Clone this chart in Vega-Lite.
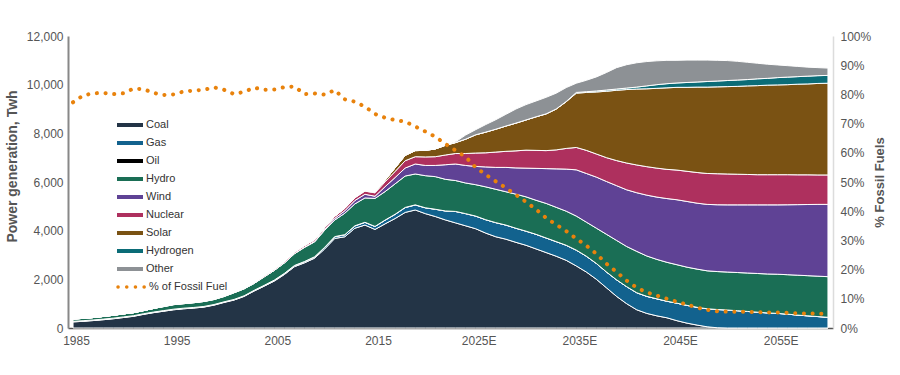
{
  "$schema": "https://vega.github.io/schema/vega-lite/v6.json",
  "width": 765,
  "height": 292,
  "autosize": "none",
  "padding": {"left": 68, "top": 36, "right": 67, "bottom": 47},
  "background": "white",
  "config": {
    "view": {"stroke": null},
    "font": "Liberation Sans",
    "axis": {"labelFont": "Liberation Sans", "titleFont": "Liberation Sans", "grid": false, "ticks": false}
  },
  "data": {"values": [
    {"year":1985,"Coal":250,"Gas":15,"Oil":10,"Hydro":95,"Wind":0,"Nuclear":0,"Solar":0,"Hydrogen":0,"Other":0,"Fossil":77.3},
    {"year":1986,"Coal":275,"Gas":15,"Oil":10,"Hydro":95,"Wind":0,"Nuclear":0,"Solar":0,"Hydrogen":0,"Other":0,"Fossil":79.6},
    {"year":1987,"Coal":305,"Gas":15,"Oil":10,"Hydro":100,"Wind":0,"Nuclear":0,"Solar":0,"Hydrogen":0,"Other":0,"Fossil":80.4},
    {"year":1988,"Coal":340,"Gas":15,"Oil":10,"Hydro":110,"Wind":0,"Nuclear":0,"Solar":0,"Hydrogen":0,"Other":0,"Fossil":80.5},
    {"year":1989,"Coal":380,"Gas":15,"Oil":10,"Hydro":118,"Wind":0,"Nuclear":0,"Solar":0,"Hydrogen":0,"Other":0,"Fossil":80.1},
    {"year":1990,"Coal":430,"Gas":15,"Oil":10,"Hydro":125,"Wind":0,"Nuclear":0,"Solar":0,"Hydrogen":0,"Other":0,"Fossil":80.4},
    {"year":1991,"Coal":480,"Gas":15,"Oil":10,"Hydro":125,"Wind":0,"Nuclear":0,"Solar":0,"Hydrogen":0,"Other":0,"Fossil":82.0},
    {"year":1992,"Coal":560,"Gas":15,"Oil":10,"Hydro":130,"Wind":0,"Nuclear":0,"Solar":0,"Hydrogen":0,"Other":0,"Fossil":81.8},
    {"year":1993,"Coal":630,"Gas":15,"Oil":10,"Hydro":150,"Wind":0,"Nuclear":0,"Solar":0,"Hydrogen":0,"Other":0,"Fossil":80.5},
    {"year":1994,"Coal":690,"Gas":15,"Oil":10,"Hydro":165,"Wind":0,"Nuclear":15,"Solar":0,"Hydrogen":0,"Other":0,"Fossil":79.8},
    {"year":1995,"Coal":750,"Gas":15,"Oil":10,"Hydro":185,"Wind":0,"Nuclear":13,"Solar":0,"Hydrogen":0,"Other":0,"Fossil":80.0},
    {"year":1996,"Coal":790,"Gas":15,"Oil":10,"Hydro":185,"Wind":0,"Nuclear":14,"Solar":0,"Hydrogen":0,"Other":0,"Fossil":81.0},
    {"year":1997,"Coal":820,"Gas":15,"Oil":10,"Hydro":195,"Wind":0,"Nuclear":14,"Solar":0,"Hydrogen":0,"Other":0,"Fossil":81.3},
    {"year":1998,"Coal":860,"Gas":15,"Oil":10,"Hydro":205,"Wind":0,"Nuclear":14,"Solar":0,"Hydrogen":0,"Other":0,"Fossil":81.6},
    {"year":1999,"Coal":940,"Gas":15,"Oil":10,"Hydro":205,"Wind":0,"Nuclear":15,"Solar":0,"Hydrogen":0,"Other":0,"Fossil":82.4},
    {"year":2000,"Coal":1050,"Gas":15,"Oil":10,"Hydro":220,"Wind":0,"Nuclear":17,"Solar":0,"Hydrogen":0,"Other":0,"Fossil":81.6},
    {"year":2001,"Coal":1150,"Gas":15,"Oil":10,"Hydro":275,"Wind":0,"Nuclear":17,"Solar":0,"Hydrogen":0,"Other":0,"Fossil":80.1},
    {"year":2002,"Coal":1300,"Gas":15,"Oil":10,"Hydro":285,"Wind":0,"Nuclear":25,"Solar":0,"Hydrogen":0,"Other":0,"Fossil":80.9},
    {"year":2003,"Coal":1520,"Gas":20,"Oil":10,"Hydro":285,"Wind":0,"Nuclear":43,"Solar":0,"Hydrogen":0,"Other":0,"Fossil":82.3},
    {"year":2004,"Coal":1720,"Gas":25,"Oil":10,"Hydro":350,"Wind":0,"Nuclear":50,"Solar":0,"Hydrogen":0,"Other":0,"Fossil":81.6},
    {"year":2005,"Coal":1930,"Gas":30,"Oil":10,"Hydro":400,"Wind":0,"Nuclear":53,"Solar":0,"Hydrogen":0,"Other":0,"Fossil":81.7},
    {"year":2006,"Coal":2200,"Gas":35,"Oil":10,"Hydro":430,"Wind":5,"Nuclear":55,"Solar":0,"Hydrogen":0,"Other":0,"Fossil":82.5},
    {"year":2007,"Coal":2520,"Gas":40,"Oil":10,"Hydro":480,"Wind":10,"Nuclear":62,"Solar":0,"Hydrogen":0,"Other":0,"Fossil":82.7},
    {"year":2008,"Coal":2680,"Gas":45,"Oil":8,"Hydro":580,"Wind":13,"Nuclear":68,"Solar":0,"Hydrogen":0,"Other":0,"Fossil":80.1},
    {"year":2009,"Coal":2870,"Gas":50,"Oil":8,"Hydro":610,"Wind":27,"Nuclear":70,"Solar":0,"Hydrogen":0,"Other":0,"Fossil":80.3},
    {"year":2010,"Coal":3250,"Gas":60,"Oil":8,"Hydro":700,"Wind":45,"Nuclear":74,"Solar":0,"Hydrogen":0,"Other":0,"Fossil":79.9},
    {"year":2011,"Coal":3680,"Gas":70,"Oil":6,"Hydro":680,"Wind":70,"Nuclear":86,"Solar":5,"Hydrogen":0,"Other":0,"Fossil":81.5},
    {"year":2012,"Coal":3750,"Gas":80,"Oil":6,"Hydro":880,"Wind":100,"Nuclear":97,"Solar":10,"Hydrogen":0,"Other":0,"Fossil":78.3},
    {"year":2013,"Coal":4100,"Gas":95,"Oil":5,"Hydro":900,"Wind":140,"Nuclear":110,"Solar":15,"Hydrogen":0,"Other":0,"Fossil":77.5},
    {"year":2014,"Coal":4230,"Gas":110,"Oil":5,"Hydro":1000,"Wind":150,"Nuclear":130,"Solar":25,"Hydrogen":0,"Other":0,"Fossil":75.8},
    {"year":2015,"Coal":4050,"Gas":120,"Oil":5,"Hydro":1150,"Wind":90,"Nuclear":140,"Solar":40,"Hydrogen":0,"Other":0,"Fossil":73.3},
    {"year":2016,"Coal":4280,"Gas":150,"Oil":5,"Hydro":1170,"Wind":200,"Nuclear":200,"Solar":70,"Hydrogen":0,"Other":0,"Fossil":72.0},
    {"year":2017,"Coal":4500,"Gas":170,"Oil":5,"Hydro":1250,"Wind":260,"Nuclear":250,"Solar":150,"Hydrogen":0,"Other":0,"Fossil":71.2},
    {"year":2018,"Coal":4750,"Gas":200,"Oil":5,"Hydro":1290,"Wind":330,"Nuclear":300,"Solar":220,"Hydrogen":0,"Other":0,"Fossil":70.7},
    {"year":2019,"Coal":4850,"Gas":205,"Oil":5,"Hydro":1270,"Wind":410,"Nuclear":300,"Solar":250,"Hydrogen":0,"Other":0,"Fossil":69.0},
    {"year":2020,"Coal":4700,"Gas":240,"Oil":0,"Hydro":1320,"Wind":420,"Nuclear":350,"Solar":270,"Hydrogen":0,"Other":0,"Fossil":67.3},
    {"year":2021,"Coal":4580,"Gas":300,"Oil":0,"Hydro":1340,"Wind":460,"Nuclear":360,"Solar":320,"Hydrogen":0,"Other":0,"Fossil":65.5},
    {"year":2022,"Coal":4440,"Gas":370,"Oil":0,"Hydro":1300,"Wind":600,"Nuclear":400,"Solar":400,"Hydrogen":0,"Other":0,"Fossil":63.0},
    {"year":2023,"Coal":4320,"Gas":470,"Oil":0,"Hydro":1270,"Wind":680,"Nuclear":430,"Solar":450,"Hydrogen":0,"Other":30,"Fossil":60.8},
    {"year":2024,"Coal":4200,"Gas":500,"Oil":0,"Hydro":1260,"Wind":720,"Nuclear":490,"Solar":590,"Hydrogen":0,"Other":170,"Fossil":58.6},
    {"year":2025,"Coal":4080,"Gas":520,"Oil":0,"Hydro":1290,"Wind":750,"Nuclear":550,"Solar":750,"Hydrogen":0,"Other":210,"Fossil":55.0},
    {"year":2026,"Coal":3900,"Gas":550,"Oil":0,"Hydro":1350,"Wind":820,"Nuclear":580,"Solar":850,"Hydrogen":0,"Other":310,"Fossil":52.5},
    {"year":2027,"Coal":3750,"Gas":580,"Oil":0,"Hydro":1370,"Wind":900,"Nuclear":630,"Solar":940,"Hydrogen":0,"Other":390,"Fossil":50.2},
    {"year":2028,"Coal":3650,"Gas":580,"Oil":0,"Hydro":1370,"Wind":1000,"Nuclear":660,"Solar":1040,"Hydrogen":0,"Other":480,"Fossil":48.0},
    {"year":2029,"Coal":3520,"Gas":580,"Oil":0,"Hydro":1400,"Wind":1080,"Nuclear":700,"Solar":1140,"Hydrogen":0,"Other":580,"Fossil":45.6},
    {"year":2030,"Coal":3400,"Gas":580,"Oil":0,"Hydro":1410,"Wind":1180,"Nuclear":740,"Solar":1240,"Hydrogen":0,"Other":630,"Fossil":43.2},
    {"year":2031,"Coal":3250,"Gas":600,"Oil":0,"Hydro":1400,"Wind":1310,"Nuclear":740,"Solar":1380,"Hydrogen":0,"Other":650,"Fossil":40.6},
    {"year":2032,"Coal":3100,"Gas":600,"Oil":0,"Hydro":1420,"Wind":1430,"Nuclear":740,"Solar":1510,"Hydrogen":0,"Other":680,"Fossil":37.7},
    {"year":2033,"Coal":2950,"Gas":600,"Oil":0,"Hydro":1410,"Wind":1580,"Nuclear":780,"Solar":1680,"Hydrogen":0,"Other":650,"Fossil":35.4},
    {"year":2034,"Coal":2780,"Gas":620,"Oil":0,"Hydro":1400,"Wind":1730,"Nuclear":850,"Solar":1920,"Hydrogen":10,"Other":570,"Fossil":33.2},
    {"year":2035,"Coal":2550,"Gas":650,"Oil":0,"Hydro":1400,"Wind":1900,"Nuclear":920,"Solar":2230,"Hydrogen":30,"Other":380,"Fossil":30.6},
    {"year":2036,"Coal":2300,"Gas":650,"Oil":0,"Hydro":1400,"Wind":2000,"Nuclear":950,"Solar":2380,"Hydrogen":30,"Other":470,"Fossil":28.2},
    {"year":2037,"Coal":2000,"Gas":650,"Oil":0,"Hydro":1450,"Wind":2100,"Nuclear":950,"Solar":2550,"Hydrogen":40,"Other":580,"Fossil":25.4},
    {"year":2038,"Coal":1650,"Gas":650,"Oil":0,"Hydro":1550,"Wind":2170,"Nuclear":980,"Solar":2730,"Hydrogen":50,"Other":720,"Fossil":22.0},
    {"year":2039,"Coal":1300,"Gas":680,"Oil":0,"Hydro":1620,"Wind":2250,"Nuclear":1030,"Solar":2890,"Hydrogen":50,"Other":880,"Fossil":19.2},
    {"year":2040,"Coal":1000,"Gas":700,"Oil":0,"Hydro":1650,"Wind":2330,"Nuclear":1100,"Solar":3020,"Hydrogen":60,"Other":960,"Fossil":16.2},
    {"year":2041,"Coal":750,"Gas":700,"Oil":0,"Hydro":1700,"Wind":2410,"Nuclear":1140,"Solar":3120,"Hydrogen":80,"Other":1000,"Fossil":13.8},
    {"year":2042,"Coal":600,"Gas":700,"Oil":0,"Hydro":1660,"Wind":2500,"Nuclear":1170,"Solar":3200,"Hydrogen":120,"Other":1000,"Fossil":12.2},
    {"year":2043,"Coal":500,"Gas":700,"Oil":0,"Hydro":1620,"Wind":2560,"Nuclear":1190,"Solar":3280,"Hydrogen":150,"Other":980,"Fossil":11.1},
    {"year":2044,"Coal":420,"Gas":680,"Oil":0,"Hydro":1600,"Wind":2620,"Nuclear":1200,"Solar":3350,"Hydrogen":170,"Other":960,"Fossil":10.0},
    {"year":2045,"Coal":300,"Gas":720,"Oil":0,"Hydro":1580,"Wind":2670,"Nuclear":1220,"Solar":3400,"Hydrogen":180,"Other":930,"Fossil":9.0},
    {"year":2046,"Coal":200,"Gas":730,"Oil":0,"Hydro":1570,"Wind":2700,"Nuclear":1240,"Solar":3450,"Hydrogen":200,"Other":920,"Fossil":8.0},
    {"year":2047,"Coal":120,"Gas":730,"Oil":0,"Hydro":1570,"Wind":2710,"Nuclear":1260,"Solar":3510,"Hydrogen":210,"Other":900,"Fossil":7.0},
    {"year":2048,"Coal":50,"Gas":740,"Oil":0,"Hydro":1560,"Wind":2730,"Nuclear":1270,"Solar":3550,"Hydrogen":230,"Other":880,"Fossil":6.2},
    {"year":2049,"Coal":10,"Gas":750,"Oil":0,"Hydro":1560,"Wind":2745,"Nuclear":1275,"Solar":3570,"Hydrogen":240,"Other":850,"Fossil":5.7},
    {"year":2050,"Coal":0,"Gas":740,"Oil":0,"Hydro":1560,"Wind":2760,"Nuclear":1270,"Solar":3590,"Hydrogen":250,"Other":820,"Fossil":5.6},
    {"year":2051,"Coal":0,"Gas":710,"Oil":0,"Hydro":1570,"Wind":2780,"Nuclear":1260,"Solar":3610,"Hydrogen":260,"Other":770,"Fossil":5.6},
    {"year":2052,"Coal":0,"Gas":680,"Oil":0,"Hydro":1580,"Wind":2800,"Nuclear":1250,"Solar":3640,"Hydrogen":260,"Other":710,"Fossil":5.5},
    {"year":2053,"Coal":0,"Gas":650,"Oil":0,"Hydro":1590,"Wind":2820,"Nuclear":1240,"Solar":3660,"Hydrogen":280,"Other":640,"Fossil":5.4},
    {"year":2054,"Coal":0,"Gas":620,"Oil":0,"Hydro":1600,"Wind":2840,"Nuclear":1240,"Solar":3680,"Hydrogen":280,"Other":580,"Fossil":5.3},
    {"year":2055,"Coal":0,"Gas":600,"Oil":0,"Hydro":1610,"Wind":2850,"Nuclear":1240,"Solar":3690,"Hydrogen":300,"Other":520,"Fossil":5.3},
    {"year":2056,"Coal":0,"Gas":570,"Oil":0,"Hydro":1620,"Wind":2875,"Nuclear":1235,"Solar":3700,"Hydrogen":310,"Other":470,"Fossil":5.2},
    {"year":2057,"Coal":0,"Gas":530,"Oil":0,"Hydro":1640,"Wind":2900,"Nuclear":1225,"Solar":3725,"Hydrogen":310,"Other":420,"Fossil":5.0},
    {"year":2058,"Coal":0,"Gas":500,"Oil":0,"Hydro":1650,"Wind":2925,"Nuclear":1220,"Solar":3735,"Hydrogen":320,"Other":370,"Fossil":5.0},
    {"year":2059,"Coal":0,"Gas":470,"Oil":0,"Hydro":1660,"Wind":2950,"Nuclear":1210,"Solar":3760,"Hydrogen":320,"Other":330,"Fossil":4.9},
    {"year":2060,"Coal":0,"Gas":440,"Oil":0,"Hydro":1670,"Wind":2970,"Nuclear":1210,"Solar":3770,"Hydrogen":320,"Other":300,"Fossil":4.8}
  ]},
  "layer": [
    {
      "transform": [
        {"fold": ["Coal","Gas","Oil","Hydro","Wind","Nuclear","Solar","Hydrogen","Other"], "as": ["source","twh"]},
        {"lookup": "source", "from": {"data": {"values": [
          {"source":"Coal","rank":1},{"source":"Gas","rank":2},{"source":"Oil","rank":3},
          {"source":"Hydro","rank":4},{"source":"Wind","rank":5},{"source":"Nuclear","rank":6},
          {"source":"Solar","rank":7},{"source":"Hydrogen","rank":8},{"source":"Other","rank":9}]},
          "key": "source", "fields": ["rank"]}}
      ],
      "mark": {"type": "area", "stroke": "white", "strokeWidth": 1, "opacity": 1, "interpolate": "linear"},
      "encoding": {
        "x": {"field": "year", "type": "quantitative",
              "scale": {"domain": [1984.5, 2060.5], "nice": false, "zero": false},
              "axis": {"values": [1985,1995,2005,2015,2025,2035,2045,2055], "format": "d",
                       "labelExpr": "datum.value >= 2025 ? datum.value + 'E' : '' + datum.value",
                       "title": null, "domainColor": "#555", "domainWidth": 1.5, "labelFontSize": 12,
                       "labelColor": "#555", "labelPadding": 7, "labelOffset": 3, "labelFlush": false}},
        "y": {"field": "twh", "type": "quantitative", "stack": "zero",
              "scale": {"domain": [0, 12000], "nice": false},
              "axis": {"values": [0,2000,4000,6000,8000,10000,12000],
                       "labelExpr": "format(datum.value, ',')",
                       "title": "Power generation, Twh", "titleFontSize": 14, "titleFontWeight": "bold",
                       "titleColor": "#555", "titleY": 130, "titlePadding": 7,
                       "domainColor": "#888", "domainWidth": 2, "labelFontSize": 12, "labelColor": "#555", "labelPadding": 5,
                       "encode": {"labels": {"update": {"dx": {"signal": "datum.value == 0 ? -7 : 0"}}}}}},
        "order": {"field": "rank", "type": "quantitative", "sort": "ascending"},
        "color": {"field": "source", "type": "nominal",
                  "sort": ["Coal","Gas","Oil","Hydro","Wind","Nuclear","Solar","Hydrogen","Other"],
                  "scale": {"domain": ["Coal","Gas","Oil","Hydro","Wind","Nuclear","Solar","Hydrogen","Other"],
                            "range": ["#233446","#12628e","#000000","#1a6e55","#5f4295","#ae305e","#7a5213","#0b6c77","#8d9195"]},
                  "legend": {"orient": "none", "legendX": 49, "legendY": 82, "direction": "vertical", "title": null,
                             "symbolType": "M-1,-0.15L1,-0.15L1,0.15L-1,0.15Z", "symbolSize": 676, "symbolStrokeWidth": 0,
                             "symbolOpacity": 1, "clipHeight": 14, "rowPadding": 4, "labelFontSize": 11,
                             "labelColor": "#333", "labelOffset": 3, "labelFont": "Liberation Sans"}}
      }
    },
    {
      "mark": {"type": "line", "strokeWidth": 4, "strokeDash": [0.1, 8.6], "strokeCap": "round"},
      "encoding": {
        "x": {"field": "year", "type": "quantitative"},
        "y": {"field": "Fossil", "type": "quantitative",
              "scale": {"domain": [0, 100], "nice": false},
              "axis": {"orient": "right", "values": [0,10,20,30,40,50,60,70,80,90,100],
                       "labelExpr": "datum.value + '%'", "title": "% Fossil Fuels", "titleFontSize": 13,
                       "titleFontWeight": "bold", "titleColor": "#555", "titleAngle": 270, "titlePadding": 16,
                       "domainColor": "#dcdcdc", "domainWidth": 1.5, "labelFontSize": 12, "labelColor": "#555", "labelPadding": 7}},
        "color": {"datum": "% of Fossil Fuel", "type": "nominal",
                  "scale": {"range": ["#e8820c"]},
                  "legend": {"orient": "none", "legendX": 48, "legendY": 244, "title": null,
                             "symbolType": "stroke", "symbolSize": 729, "symbolStrokeWidth": 3.5,
                             "symbolDash": [0.1, 8.6], "clipHeight": 14, "labelFontSize": 11,
                             "labelColor": "#333", "labelOffset": 2, "labelFont": "Liberation Sans",
                             "encode": {"symbols": {"update": {"strokeCap": {"value": "round"}}}}}}
      }
    }
  ],
  "resolve": {"scale": {"y": "independent", "color": "independent"}}
}
